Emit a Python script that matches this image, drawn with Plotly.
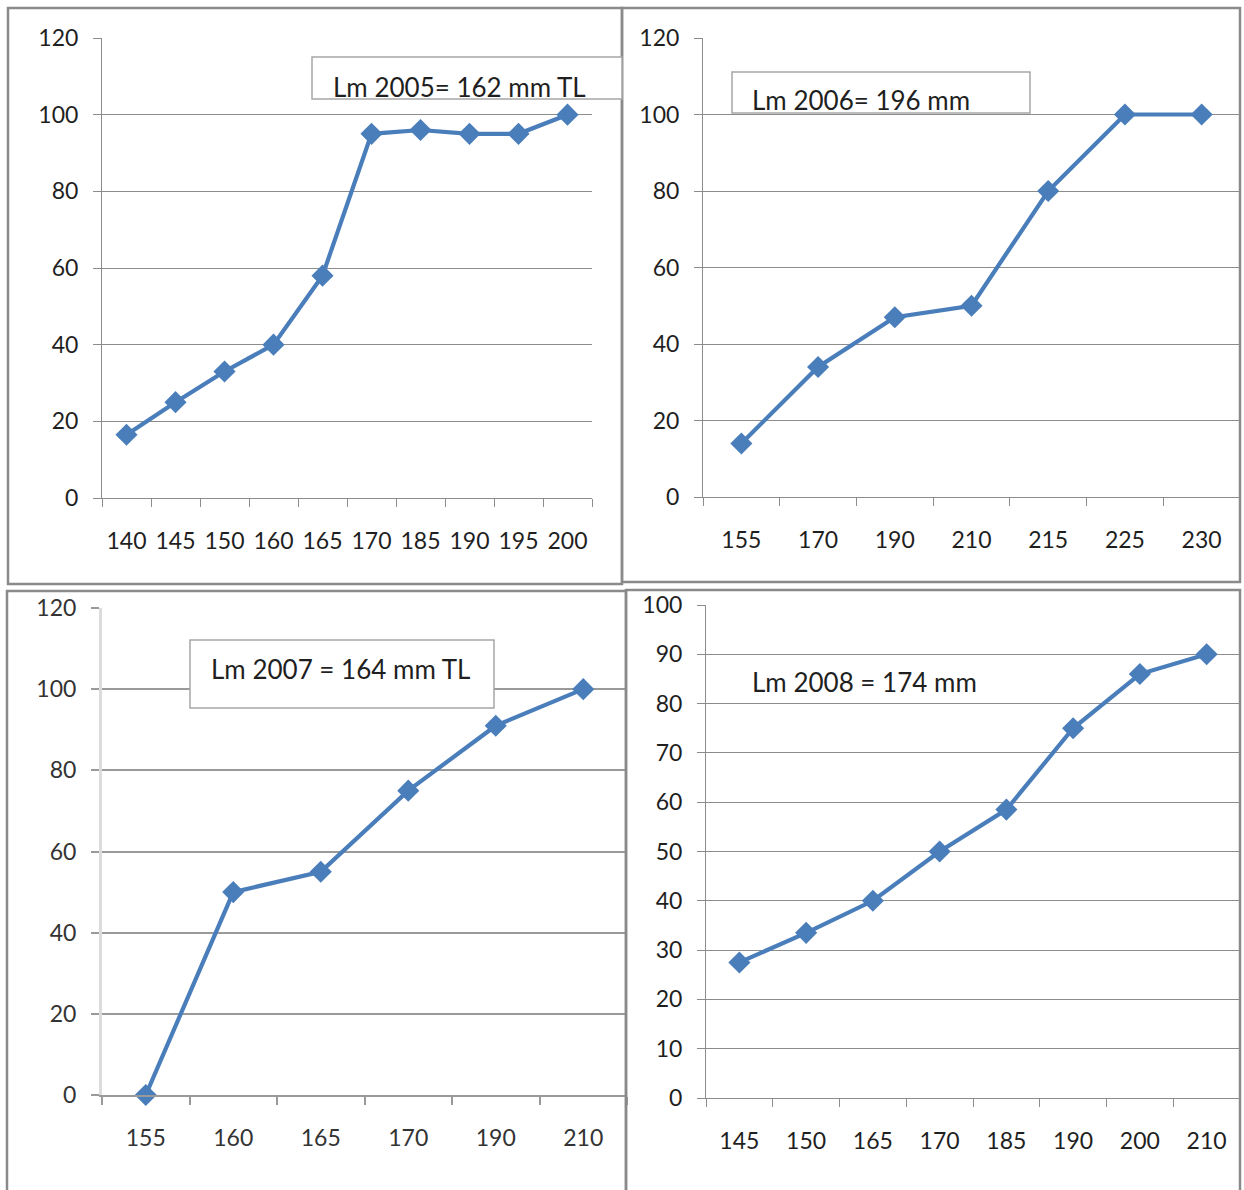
import plotly.graph_objects as go

# ---------------- data ----------------
len_2005 = ["140", "145", "150", "160", "165", "170", "185", "190", "195", "200"]
pct_2005 = [16.5, 25, 33, 40, 58, 95, 96, 95, 95, 100]

len_2006 = ["155", "170", "190", "210", "215", "225", "230"]
pct_2006 = [14, 34, 47, 50, 80, 100, 100]

len_2007 = ["155", "160", "165", "170", "190", "210"]
pct_2007 = [0, 50, 55, 75, 91, 100]

len_2008 = ["145", "150", "165", "170", "185", "190", "200", "210"]
pct_2008 = [27.5, 33.5, 40, 50, 58.5, 75, 86, 90]

labels = ["Lm 2005= 162 mm TL", "Lm 2006= 196 mm", "Lm 2007 = 164 mm TL", "Lm 2008 = 174 mm"]

# ---------------- layout helpers ----------------
W, H = 1244, 1190
def px(x):
    return x / W
def py(y):
    return 1 - y / H

LINE = "#4a7ebb"
GRID = "#8c8c8c"
FONT = "Lato"
TXT = "#1f1f1f"
TICK_SIZE = 23
ANNO_SIZE = 26

fig = go.Figure()

panels = [
    # (x, y, xdomain px, ydomain px (top,bottom), yrange, dtick, axis line colour, axis line width, grid colour, grid width, text colour)
    (len_2005, pct_2005, (102, 592), (38, 498), 120, 20, GRID, 1, GRID, 1, TXT),
    (len_2006, pct_2006, (703, 1240), (38, 497), 120, 20, GRID, 1, GRID, 1, TXT),
    (len_2007, pct_2007, (102, 627), (608, 1095), 120, 20, "#dcdcdc", 3, "#9a9a9a", 1.6, "#333333"),
    (len_2008, pct_2008, (706, 1240), (605, 1098), 100, 10, GRID, 1, GRID, 1, TXT),
]

for i, (xs, ys, xd, yd, ymax, dt, alc, alw, gc, gw, tc) in enumerate(panels):
    n = "" if i == 0 else str(i + 1)
    fig.add_trace(go.Scatter(
        x=xs, y=ys, mode="lines+markers",
        line=dict(color=LINE, width=4.2),
        marker=dict(symbol="diamond", size=17, color=LINE),
        xaxis="x" + n, yaxis="y" + n, showlegend=False,
        cliponaxis=False, hoverinfo="skip",
    ))
    fig.layout["xaxis" + n] = dict(
        type="category", domain=[px(xd[0]), px(xd[1])], anchor="y" + n,
        categoryorder="array", categoryarray=xs, automargin=False,
        range=[-0.5, len(xs) - 0.5],
        showgrid=False, showline=True, linecolor=gc, linewidth=gw,
        ticks="outside", tickson="boundaries", ticklen=8, tickcolor=gc, tickwidth=gw,
        tickangle=0,
        tickfont=dict(family=FONT, size=TICK_SIZE, color=tc),
        ticklabelstandoff=22, fixedrange=True, zeroline=False,
    )
    fig.layout["yaxis" + n] = dict(
        domain=[py(yd[1]), py(yd[0])], anchor="x" + n, automargin=False,
        range=[0, ymax], dtick=dt, tick0=0,
        showgrid=True, gridcolor=gc, gridwidth=gw,
        showline=True, linecolor=alc, linewidth=alw,
        ticks="outside", ticklen=8, tickcolor=gc, tickwidth=gw,
        tickfont=dict(family=FONT, size=TICK_SIZE, color=tc),
        ticklabelstandoff=10, zeroline=False, fixedrange=True,
    )

shapes = []
# panel borders
for (x0, y0, x1, y1) in [(8, 8, 622, 584), (622, 8, 1240, 582), (7, 591, 626, 1196), (626, 590, 1240, 1196)]:
    shapes.append(dict(type="rect", xref="paper", yref="paper",
                       x0=px(x0), x1=px(x1), y0=py(y1), y1=py(y0),
                       line=dict(color="#8a8a8a", width=2.5), fillcolor="rgba(0,0,0,0)"))
# annotation boxes
for (x0, y0, x1, y1) in [(312, 57, 622, 99), (732, 72, 1030, 113), (190, 640, 494, 708)]:
    shapes.append(dict(type="rect", xref="paper", yref="paper",
                       x0=px(x0), x1=px(x1), y0=py(y1), y1=py(y0),
                       line=dict(color="#a6a6a6", width=1.5), fillcolor="white", layer="above"))

annos = [
    dict(text=labels[0], x=px(331), y=py(87), xanchor="left", yanchor="middle"),
    dict(text=labels[1], x=px(750), y=py(100), xanchor="left", yanchor="middle"),
    dict(text=labels[2], x=px(340), y=py(669), xanchor="center", yanchor="middle"),
    dict(text=labels[3], x=px(750), y=py(682), xanchor="left", yanchor="middle"),
]
for a in annos:
    a.update(xref="paper", yref="paper", showarrow=False,
             font=dict(family=FONT, size=ANNO_SIZE, color=TXT))

fig.update_layout(
    width=W, height=H, margin=dict(l=0, r=0, t=0, b=0, pad=0, autoexpand=False),
    paper_bgcolor="white", plot_bgcolor="white",
    shapes=shapes, annotations=annos, showlegend=False,
)

fig.write_html(
    "out.html",
    config={"displayModeBar": False},
    post_script="document.body.style.margin='0';document.body.style.overflow='hidden';",
)
